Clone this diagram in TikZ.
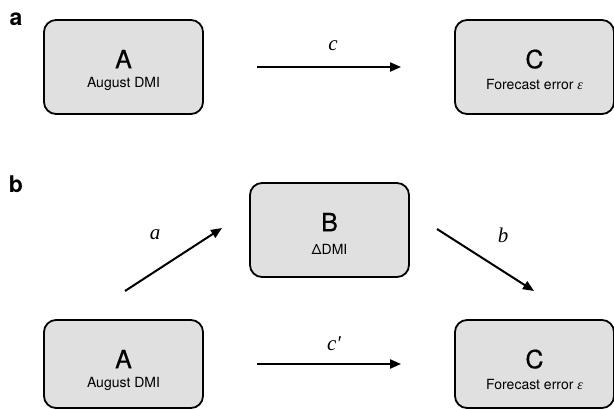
\documentclass[tikz,border=0pt]{standalone}
\usepackage{fontspec}
\setmainfont{TeX Gyre Heros}
\newfontfamily\heavyfont[FakeBold=0.6]{TeX Gyre Heros}
\newfontfamily\mathitfont{Liberation Serif}
\usetikzlibrary{arrows.meta,calc}

\tikzset{
  box/.style={draw=black, line width=1.8pt, fill=black!12, rounded corners=12pt,
              minimum width=159pt, inner sep=0pt},
  tallbox/.style={box, minimum height=94pt},
  lowbox/.style={box, minimum height=88pt},
  letter/.style={font=\fontsize{25}{25}\selectfont\heavyfont, inner sep=0pt},
  caption/.style={font=\fontsize{14}{14}\selectfont, inner sep=0pt},
  coef/.style={font=\fontsize{21}{21}\selectfont\mathitfont\itshape, inner sep=0pt},
  panel/.style={font=\fontsize{23}{23}\selectfont\bfseries, inner sep=0pt},
  link/.style={line width=2pt, -{Triangle[length=11pt,width=9pt]}}
}

\begin{document}
\begin{tikzpicture}[x=1pt, y=-1pt]
  \useasboundingbox (0,0) rectangle (614,410);

  % panel a: total effect
  \node[panel] (pa) at (16,19) {a};
  \node[tallbox] (A1) at (123.5,67) {};
  \node[tallbox] (C1) at (534.5,67) {};
  \node[letter]  (A1l) at ($(A1.north)+(0,40)$) {A};
  \node[caption] (A1c) at ($(A1.north)+(0,65)$) {August DMI};
  \node[letter]  (C1l) at ($(C1.north)+(0,40)$) {C};
  \node[caption] (C1c) at ($(C1.north)+(0,65)$) {Forecast error {\mathitfont\itshape ε}};
  \draw[link, shorten <=53pt, shorten >=53pt] (A1.east) -- (C1.west);
  \node[coef] (lc) at (333,46) {c};

  % panel b: mediation through B
  \node[panel] (pb) at (16,184) {b};
  \node[tallbox] (B) at (329.5,230) {};
  \node[letter]  (Bl) at ($(B.north)+(0,40)$) {B};
  \node[caption] (Bc) at ($(B.north)+(0,67)$) {ΔDMI};

  \node[lowbox] (A2) at (123.5,364) {};
  \node[lowbox] (C2) at (534.5,364) {};
  \node[letter]  (A2l) at ($(A2.north)+(0,40)$) {A};
  \node[caption] (A2c) at ($(A2.north)+(0,65)$) {August DMI};
  \node[letter]  (C2l) at ($(C2.north)+(0,40)$) {C};
  \node[caption] (C2c) at ($(C2.north)+(0,65)$) {Forecast error {\mathitfont\itshape ε}};

  \coordinate (a0) at (125,291);
  \coordinate (a1) at (222,228);
  \coordinate (b0) at (437,229);
  \coordinate (b1) at (534,291);
  \draw[link] (a0) -- (a1);
  \draw[link] (b0) -- (b1);
  \node[coef] (la) at (155,235) {a};
  \node[coef] (lb) at (503,235) {b};

  \draw[link, shorten <=53pt, shorten >=53pt] (A2.east) -- (C2.west);
  \node[coef] (lcp) at (334,344) {c′};
\end{tikzpicture}
\end{document}
